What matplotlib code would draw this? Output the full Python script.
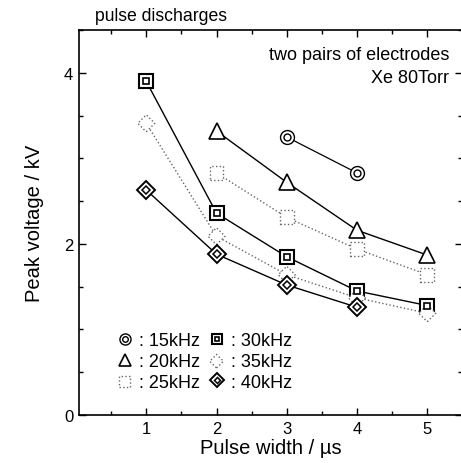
import numpy as np
import matplotlib.pyplot as plt
from matplotlib.legend_handler import HandlerTuple
from matplotlib.ticker import MultipleLocator

plt.rcParams['font.family'] = ['Liberation Sans', 'DejaVu Sans']

# data
x_15 = [3, 4]
v_15 = [3.25, 2.83]
x_20 = [2, 3, 4, 5]
v_20 = [3.32, 2.72, 2.16, 1.87]
x_25 = [2, 3, 4, 5]
v_25 = [2.83, 2.31, 1.94, 1.64]
x_30 = [1, 2, 3, 4, 5]
v_30 = [3.90, 2.36, 1.85, 1.45, 1.28]
x_35 = [1, 2, 3, 4, 5]
v_35 = [3.41, 2.09, 1.64, 1.37, 1.19]
x_40 = [1, 2, 3, 4]
v_40 = [2.63, 1.88, 1.52, 1.26]

fig = plt.figure(figsize=(4.61, 4.64), dpi=100)
ax = fig.add_axes([0.171, 0.1034, 0.832, 0.8296])

k = 'black'
g = '#666666'

# 15 kHz: double circle
ax.plot(x_15, v_15, '-', color=k, lw=0.9, zorder=2)
h15a, = ax.plot(x_15, v_15, 'o', ms=10, mfc='white', mec=k, mew=1.0, ls='none', zorder=3)
h15b, = ax.plot(x_15, v_15, 'o', ms=5, mfc='white', mec=k, mew=1.0, ls='none', zorder=4)

# 20 kHz: open triangle
ax.plot(x_20, v_20, '-', color=k, lw=1.0, zorder=2)
h20, = ax.plot(x_20, v_20, '^', ms=11, mfc='white', mec=k, mew=1.2, ls='none', zorder=3)

# 25 kHz: dotted square, dotted line
ax.plot(x_25, v_25, ':', color=g, lw=1.0, zorder=2)
h25 = ax.scatter(x_25, v_25, marker='s', s=100, facecolors='white', edgecolors=g,
                 linewidths=1.0, linestyles=':', zorder=3)

# 30 kHz: double square
ax.plot(x_30, v_30, '-', color=k, lw=1.0, zorder=2)
h30a, = ax.plot(x_30, v_30, 's', ms=9.5, mfc='white', mec=k, mew=1.5, ls='none', zorder=3)
h30b, = ax.plot(x_30, v_30, 's', ms=3.8, mfc='white', mec=k, mew=1.2, ls='none', zorder=4)

# 35 kHz: open diamond, dotted line
ax.plot(x_35, v_35, ':', color=g, lw=1.0, zorder=2)
h35 = ax.scatter(x_35, v_35, marker='D', s=75, facecolors='white', edgecolors=g,
                 linewidths=1.0, linestyles=':', zorder=3)

# 40 kHz: double diamond
ax.plot(x_40, v_40, '-', color=k, lw=1.0, zorder=2)
h40a, = ax.plot(x_40, v_40, 'D', ms=9, mfc='white', mec=k, mew=1.4, ls='none', zorder=3)
h40b, = ax.plot(x_40, v_40, 'D', ms=3.8, mfc='white', mec=k, mew=1.1, ls='none', zorder=4)

ax.set_xlim(0.04, 5.5)
ax.set_ylim(0, 4.5)
ax.xaxis.set_major_locator(MultipleLocator(1))
ax.xaxis.set_minor_locator(MultipleLocator(0.5))
ax.yaxis.set_major_locator(MultipleLocator(2))
ax.yaxis.set_minor_locator(MultipleLocator(0.5))
ax.tick_params(which='both', direction='in', top=True, right=True, labelsize=12, width=1.0)
ax.tick_params(which='major', length=5, pad=4)
ax.tick_params(which='minor', length=3)
ax.set_xticks([1, 2, 3, 4, 5])
ax.set_yticks([0, 2, 4])
for s in ax.spines.values():
    s.set_linewidth(1.2)

ax.set_xlabel('Pulse width / µs', fontsize=14.5, labelpad=2)
ax.set_ylabel('Peak voltage / kV', fontsize=14.5, labelpad=14)

fig.text(0.205, 0.982, 'pulse discharges', fontsize=12.7, va='top', ha='left')
ax.text(0.965, 0.958, 'two pairs of electrodes', transform=ax.transAxes,
        fontsize=13, ha='right', va='top')
ax.text(0.965, 0.9, 'Xe 80Torr', transform=ax.transAxes,
        fontsize=13, ha='right', va='top')

handles = [(h15a, h15b), h20, h25, (h30a, h30b), h35, (h40a, h40b)]
labels = [': 15kHz', ': 20kHz', ': 25kHz', ': 30kHz', ': 35kHz', ': 40kHz']
ax.legend(handles, labels, handler_map={tuple: HandlerTuple(ndivide=1, pad=0)},
          ncol=2, loc='lower left', bbox_to_anchor=(0.075, 0.04), frameon=False,
          fontsize=13, handlelength=0.9, handletextpad=0.35, columnspacing=0.45,
          labelspacing=0.2, markerscale=0.8, borderpad=0, scatterpoints=1)

fig.savefig('out.png', dpi=100)
